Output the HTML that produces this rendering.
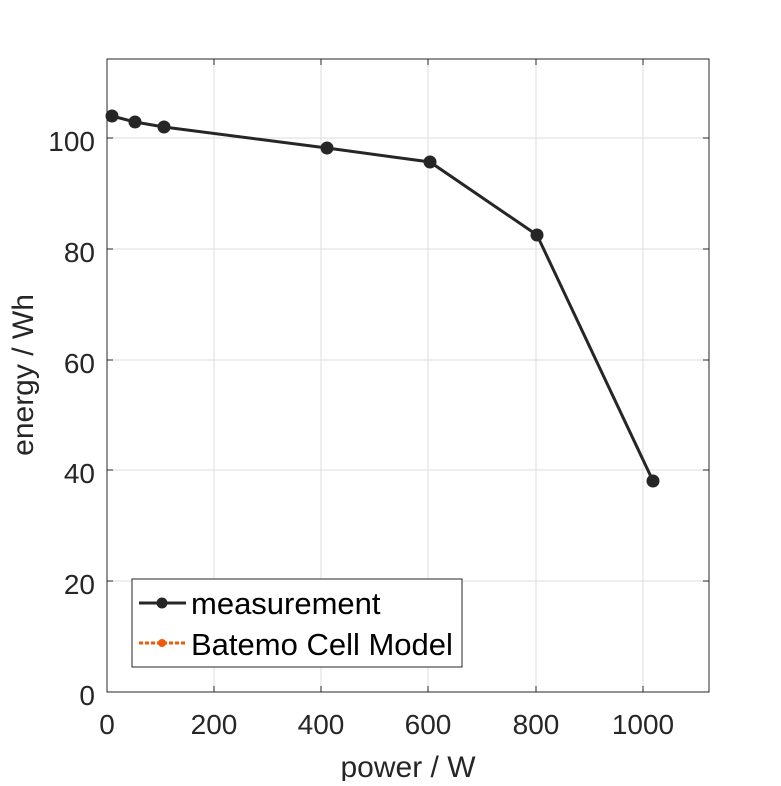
<!DOCTYPE html>
<html><head><style>body{margin:0;background:#fff}</style></head><body>
<svg width="781" height="781" xmlns="http://www.w3.org/2000/svg" font-family="Liberation Sans, sans-serif">
<rect width="781" height="781" fill="#fff"/>
<g stroke="#dcdcdc" stroke-width="1">
<line x1="214" y1="59" x2="214" y2="692"/><line x1="321" y1="59" x2="321" y2="692"/><line x1="428" y1="59" x2="428" y2="692"/><line x1="536" y1="59" x2="536" y2="692"/><line x1="643" y1="59" x2="643" y2="692"/>
<line x1="107" y1="581" x2="709" y2="581"/><line x1="107" y1="470" x2="709" y2="470"/><line x1="107" y1="360" x2="709" y2="360"/><line x1="107" y1="249" x2="709" y2="249"/><line x1="107" y1="138" x2="709" y2="138"/>
</g>
<rect x="107" y="59" width="602" height="633" fill="none" stroke="#262626" stroke-width="1"/>
<g stroke="#262626">
<line x1="214" y1="692" x2="214" y2="686"/><line x1="321" y1="692" x2="321" y2="686"/><line x1="428" y1="692" x2="428" y2="686"/><line x1="536" y1="692" x2="536" y2="686"/><line x1="643" y1="692" x2="643" y2="686"/>
<line x1="214" y1="59" x2="214" y2="65"/><line x1="321" y1="59" x2="321" y2="65"/><line x1="428" y1="59" x2="428" y2="65"/><line x1="536" y1="59" x2="536" y2="65"/><line x1="643" y1="59" x2="643" y2="65"/>
<line x1="107" y1="581" x2="113" y2="581"/><line x1="107" y1="470" x2="113" y2="470"/><line x1="107" y1="360" x2="113" y2="360"/><line x1="107" y1="249" x2="113" y2="249"/><line x1="107" y1="138" x2="113" y2="138"/>
<line x1="709" y1="581" x2="703" y2="581"/><line x1="709" y1="470" x2="703" y2="470"/><line x1="709" y1="360" x2="703" y2="360"/><line x1="709" y1="249" x2="703" y2="249"/><line x1="709" y1="138" x2="703" y2="138"/>
</g>
<g font-size="28" fill="#262626" text-anchor="middle">
<text x="107" y="734">0</text><text x="214" y="734">200</text><text x="321" y="734">400</text><text x="428" y="734">600</text><text x="536" y="734">800</text><text x="643" y="734">1000</text>
</g>
<g font-size="28" fill="#262626" text-anchor="end">
<text x="95" y="705">0</text><text x="95" y="594">20</text><text x="95" y="483">40</text><text x="95" y="373">60</text><text x="95" y="262">80</text><text x="95" y="151">100</text>
</g>
<text x="408" y="777" font-size="30" fill="#262626" text-anchor="middle">power / W</text>
<text transform="translate(33,375) rotate(-90)" font-size="30" fill="#262626" text-anchor="middle">energy / Wh</text>
<polyline points="112,116 135,122 164,127 327,148 430,162 537,235 653,481" fill="none" stroke="#262626" stroke-width="3"/>
<g fill="#262626">
<circle cx="112" cy="116" r="6.5"/><circle cx="135" cy="122" r="6.5"/><circle cx="164" cy="127" r="6.5"/><circle cx="327" cy="148" r="6.5"/><circle cx="430" cy="162" r="6.5"/><circle cx="537" cy="235" r="6.5"/><circle cx="653" cy="481" r="6.5"/>
</g>
<rect x="132" y="579" width="330" height="88" fill="#fff" stroke="#262626" stroke-width="1"/>
<line x1="139" y1="603" x2="186" y2="603" stroke="#262626" stroke-width="3"/>
<circle cx="162" cy="603" r="5.5" fill="#262626"/>
<line x1="139" y1="643" x2="186" y2="643" stroke="#f05a0a" stroke-width="3" stroke-dasharray="4,2"/>
<circle cx="162" cy="643" r="4" fill="#f05a0a"/>
<text x="191" y="614" font-size="31" fill="#000">measurement</text>
<text x="191" y="655" font-size="31" fill="#000">Batemo Cell Model</text>
</svg>
</body></html>
